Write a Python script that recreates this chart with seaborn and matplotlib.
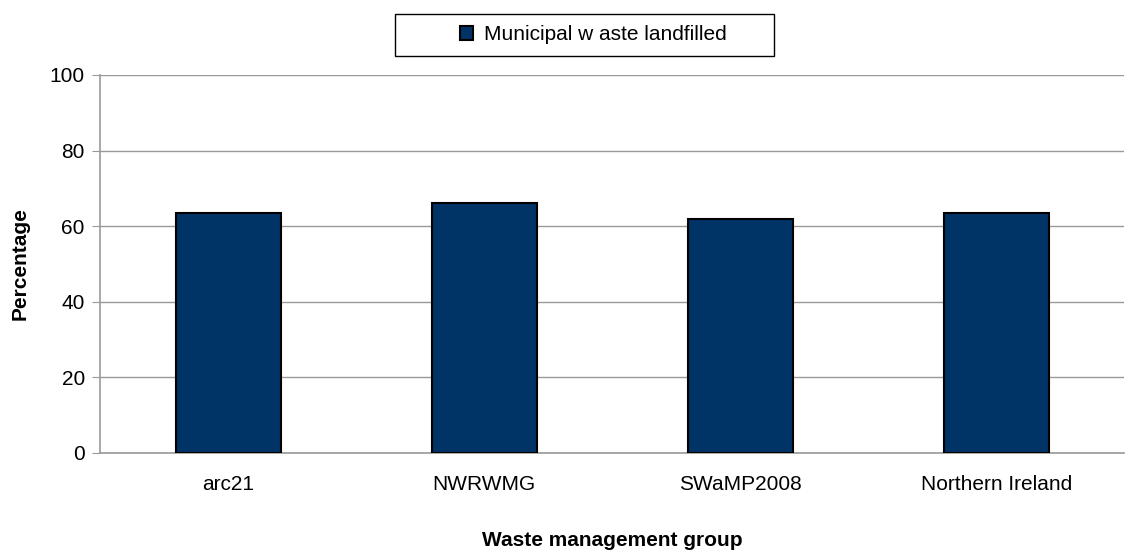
import matplotlib
matplotlib.use("Agg")
import matplotlib.pyplot as plt
from matplotlib.patches import Rectangle
import seaborn as sns
import pandas as pd

# --- DATA ---
groups = ["arc21", "NWRWMG", "SWaMP2008", "Northern Ireland"]
landfilled_pct = [63.6, 66.2, 62.0, 63.6]
series_name = "Municipal w aste landfilled"

df = pd.DataFrame({"group": groups, "pct": landfilled_pct, "series": series_name})

sns.set_style("white")
plt.rcParams["font.family"] = ["Liberation Sans", "DejaVu Sans"]
plt.rcParams["text.color"] = "black"
plt.rcParams["axes.labelcolor"] = "black"
plt.rcParams["xtick.color"] = "black"
plt.rcParams["ytick.color"] = "black"

fig = plt.figure(figsize=(11.28, 5.55), dpi=100)
ax = fig.add_axes([0.0887, 0.184, 0.908, 0.681])

sns.barplot(data=df, x="group", y="pct", hue="series", palette=["#003366"],
            saturation=1, width=0.41, edgecolor="black", linewidth=1.5,
            ax=ax, zorder=3, legend=True)

ax.set_ylim(0, 100)
ax.set_yticks(range(0, 101, 20))
ax.set_xlim(-0.5, 3.5)
ax.yaxis.grid(True, color="#999999", linewidth=1)
ax.set_axisbelow(True)

for s in ["top", "right"]:
    ax.spines[s].set_visible(False)
for s in ["left", "bottom"]:
    ax.spines[s].set_color("#999999")
    ax.spines[s].set_linewidth(1.2)

ax.tick_params(axis="y", length=6, color="#999999", labelcolor="black",
               labelsize=15, left=True, pad=5)
ax.tick_params(axis="x", length=0, labelsize=15, pad=16)

ax.set_ylabel("Percentage", fontsize=15, fontweight="bold")
ax.set_xlabel("Waste management group", fontsize=15, fontweight="bold")
ax.yaxis.set_label_coords(-0.069, 0.5)
ax.xaxis.set_label_coords(0.5, -0.207)

# legend box (drawn as a figure-level frame around a frameless legend)
fig.patches.append(Rectangle((395 / 1128, 1 - 56 / 555), 379 / 1128, 42 / 555,
                             transform=fig.transFigure, facecolor="white",
                             edgecolor="black", linewidth=1))
handles, labels = ax.get_legend_handles_labels()
ax.get_legend().remove()
fig.legend(handles, labels, loc="center", bbox_to_anchor=(593 / 1128, 1 - 35 / 555),
           frameon=False, fontsize=15, handlelength=0.65, handleheight=0.65,
           handletextpad=0.5, borderpad=0)

fig.savefig("out.png", dpi=100)
